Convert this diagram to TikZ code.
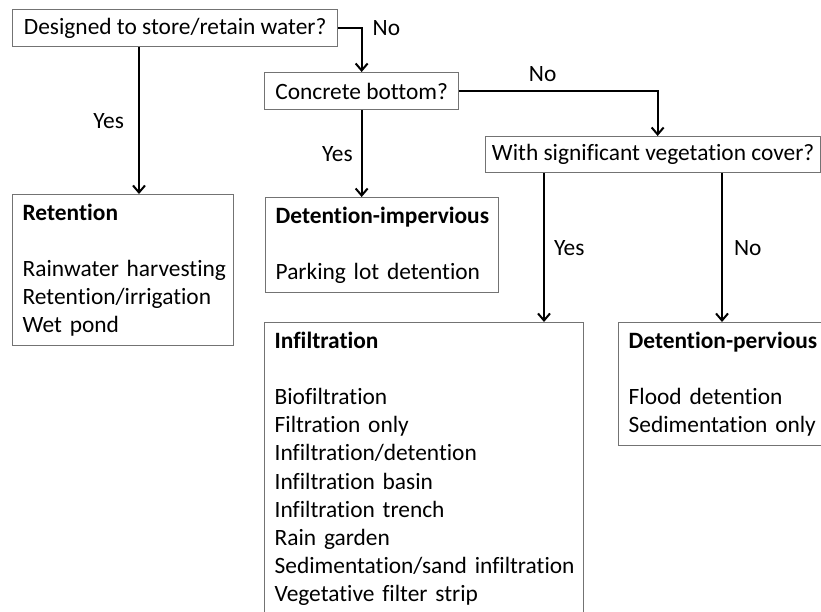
\documentclass[tikz,border=0pt]{standalone}
\usepackage{fontspec}
\setmainfont{Carlito}[Ligatures=NoCommon]
\usepackage{tikz}
\usetikzlibrary{arrows.meta, positioning, calc}
\tikzset{
  qbox/.style={rectangle, draw=black!55, line width=1.3pt, anchor=north west,
               minimum height=37pt, inner xsep=5pt, inner ysep=0pt,
               font=\fontsize{23.4}{28.2}\selectfont},
  catbox/.style={rectangle, draw=black!55, line width=1.3pt, anchor=north west,
                 align=left, inner xsep=10pt, inner ysep=9pt,
                 font=\fontsize{23.4}{28.2}\selectfont},
  lbl/.style={inner sep=0pt, font=\fontsize{23.4}{28.2}\selectfont},
  arc/.style={-{Straight Barb[length=7pt, width=12pt]}, line width=2pt}
}

\begin{document}
\begin{tikzpicture}[x=1pt, y=-1pt]
  \useasboundingbox (0,0) rectangle (821,611);

  % questions
  \node[qbox, minimum width=325pt] (q1) at (12,9) {Designed to store/retain water?};
  \node[qbox, minimum width=194pt] (conc) at (264,72) {Concrete bottom?};
  \node[qbox, minimum width=335pt, minimum height=36pt] (veg) at (485,136) {With significant vegetation cover?};

  % categories
  \node[catbox, text width=201pt] (ret) at (12,194)
    {\textbf{Retention}\\[28.2pt]\mbox{Rainwater harvesting}\\\mbox{Retention/irrigation}\\\mbox{Wet pond}};
  \node[catbox, text width=213pt] (dimp) at (265,197)
    {\mbox{\textbf{Detention-impervious}}\\[28.2pt]\mbox{Parking lot detention}};
  \node[catbox, text width=299pt] (infil) at (264,322)
    {\textbf{Infiltration}\\[28.2pt]\mbox{Biofiltration}\\\mbox{Filtration only}\\
     \mbox{Infiltration/detention}\\\mbox{Infiltration basin}\\\mbox{Infiltration trench}\\
     \mbox{Rain garden}\\\mbox{Sedimentation/sand infiltration}\\\mbox{Vegetative filter strip}};
  \node[catbox, text width=200pt] (dperv) at (618,322)
    {\mbox{\textbf{Detention-pervious}}\\[28.2pt]\mbox{Flood detention}\\\mbox{Sedimentation only}};

  % connectors
  \coordinate (s1) at ([xshift=127pt]q1.south west);
  \coordinate (s3) at ([xshift=59pt]veg.south west);
  \coordinate (s4) at ([xshift=237pt]veg.south west);

  \draw[arc] (s1) -- (s1 |- ret.north) node[midway, left=14pt, lbl] {Yes};
  \draw[arc] (q1.east) -| (conc.north) node[pos=0.5, right=10pt, lbl] {No};
  \draw[arc] (conc.south) -- (conc.south |- dimp.north) node[midway, left=8pt, lbl] {Yes};
  \draw[arc] (conc.east) -| ([xshift=4.5pt]veg.north) node[pos=0.21, above=8pt, lbl] {No};
  \draw[arc] (s3) -- (s3 |- infil.north) node[midway, right=9pt, lbl] {Yes};
  \draw[arc] (s4) -- (s4 |- dperv.north) node[midway, right=11pt, lbl] {No};
\end{tikzpicture}
\end{document}
